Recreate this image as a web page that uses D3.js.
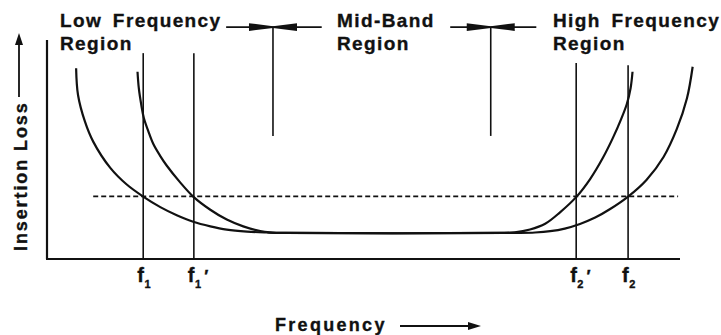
<!DOCTYPE html>
<html>
<head>
<meta charset="utf-8">
<script src="https://cdn.jsdelivr.net/npm/d3@7/dist/d3.min.js"></script>
<style>
  html, body { margin: 0; padding: 0; background: #fff; }
  svg { display: block; }
  text { font-family: "Liberation Sans", Arial, Helvetica, sans-serif; font-weight: bold; fill: #111; stroke: #111; stroke-width: 0.35px; }
</style>
</head>
<body>
<svg id="chart" width="721" height="335"></svg>
<script>
// Insertion loss vs frequency for two filters (relative units, 0–100)
const filterOuterX = [4.6, 4.9, 6.0, 7.3, 10.0, 12.6, 15.2, 17.9, 20.5, 23.1, 25.8, 28.4, 31.6, 34.7, 37.6,
                      74.7, 77.1, 79.5, 81.8, 84.2, 86.6, 88.9, 91.8, 94.7, 97.4, 99.5, 101.1, 102.0];
const filterOuterY = [87.1, 74.9, 62.7, 53.6, 41.6, 34.0, 28.5, 23.7, 20.0, 17.0, 14.9, 13.4, 12.5, 12.1, 11.9,
                      11.9, 12.1, 12.7, 13.9, 16.0, 18.9, 22.7, 28.5, 36.1, 46.6, 59.4, 73.4, 87.8];

const filterInnerX = [14.3, 14.5, 14.9, 15.3, 16.0, 16.8, 17.9, 18.9, 21.0, 23.1, 25.8, 28.4, 31.0, 33.7, 35.2, 37.6,
                      71.6, 73.9, 76.3, 78.7, 81.0, 83.7, 85.8, 87.8, 89.4, 90.7, 91.6, 92.2, 92.5];
const filterInnerY = [85.5, 78.1, 70.3, 64.4, 58.4, 52.5, 47.0, 42.7, 35.1, 28.5, 22.5, 18.0, 14.9, 12.8, 12.2, 11.9,
                      11.9, 12.2, 13.5, 16.1, 21.2, 28.6, 36.5, 46.1, 55.3, 63.9, 70.8, 78.1, 85.5];

// Cutoff frequencies and their labels
const cutoffNames = ["f1", "f1'", "f2'", "f2"];
const cutoffFreq  = [15.2, 23.2, 83.6, 91.8];
const cutoffTop   = [94, 94, 89.5, 88.5];

// Reference loss level (dashed) and its extent
const refLoss = 28.6;
const refExtent = [7.3, 99.7];

// Region boundaries (marker positions) and the markers' reach
const regionBounds = [35.7, 70.1];
const markerTop = 105.9, markerBottom = 56.2;
const markerSpan = [[28.3, 43.4], [63.7, 77.3]];
const wedgeHalf = [3.9, 3.8];

const regionLabels = [
  { lines: ["Low Frequency", "Region"], x: 60 },
  { lines: ["Mid-Band", "Region"], x: 337 },
  { lines: ["High Frequency", "Region"], x: 553 }
];

const svg = d3.select("#chart");
const x = d3.scaleLinear().domain([0, 100]).range([47, 680]);
const y = d3.scaleLinear().domain([0, 100]).range([259, 40]);

const ink = "#111";

// Axes (plain lines, no ticks)
svg.append("line").attr("x1", x(0)).attr("x2", x(0)).attr("y1", y(0)).attr("y2", y(100))
  .attr("stroke", ink).attr("stroke-width", 2.2);
svg.append("line").attr("x1", x(0) - 1).attr("x2", x(100)).attr("y1", y(0)).attr("y2", y(0))
  .attr("stroke", ink).attr("stroke-width", 2.2);

// Dashed reference loss
svg.append("line")
  .attr("x1", x(refExtent[0])).attr("x2", x(refExtent[1]))
  .attr("y1", y(refLoss)).attr("y2", y(refLoss))
  .attr("stroke", ink).attr("stroke-width", 1.6).attr("stroke-dasharray", "5,3");

// Cutoff verticals
cutoffFreq.forEach((f, i) => {
  svg.append("line").attr("x1", x(f)).attr("x2", x(f))
    .attr("y1", y(0)).attr("y2", y(cutoffTop[i]))
    .attr("stroke", ink).attr("stroke-width", 1.6);
});

// Loss curves
const line = d3.line().x(d => x(d[0])).y(d => y(d[1])).curve(d3.curveCatmullRom.alpha(0.5));
[[filterOuterX, filterOuterY], [filterInnerX, filterInnerY]].forEach(([xs, ys]) => {
  svg.append("path").datum(d3.zip(xs, ys)).attr("d", line)
    .attr("fill", "none").attr("stroke", ink).attr("stroke-width", 2.2)
    .attr("stroke-linejoin", "round");
});

// Tick labels f1, f1', f2', f2
cutoffNames.forEach((name, i) => {
  const t = svg.append("text").attr("x", x(cutoffFreq[i]) - 6).attr("y", 282)
    .style("font-size", "20px");
  t.append("tspan").text("f");
  t.append("tspan").attr("dy", 6).attr("dx", 0.5).style("font-size", "11px").text(name[1]);
  if (name.length > 2) {
    t.append("tspan").attr("dy", -6).attr("dx", 3).style("font-size", "17px").text("\u2032");
  }
});

// Region markers: vertical bar with converging arrows
regionBounds.forEach((b, i) => {
  const cx = x(b), ty = y(markerTop);
  svg.append("line").attr("x1", cx).attr("x2", cx).attr("y1", ty).attr("y2", y(markerBottom))
    .attr("stroke", ink).attr("stroke-width", 1.6);
  svg.append("line").attr("x1", x(markerSpan[i][0])).attr("x2", x(markerSpan[i][1]))
    .attr("y1", ty).attr("y2", ty).attr("stroke", ink).attr("stroke-width", 1.6);
  const len = 24, h = wedgeHalf[i];
  [-1, 1].forEach(s => {
    svg.append("path")
      .attr("d", `M${cx + s * len},${ty - h} L${cx},${ty - 0.8} L${cx},${ty + 0.8} L${cx + s * len},${ty + h} Z`)
      .attr("fill", ink);
  });
});

// Region titles
regionLabels.forEach(r => {
  r.lines.forEach((s, j) => {
    svg.append("text").attr("x", r.x).attr("y", 27 + j * 23)
      .style("font-size", "19px").style("letter-spacing", "1.4px")
      .style("word-spacing", "4px").text(s);
  });
});

// Axis titles with arrows
svg.append("text").attr("transform", "translate(27,251) rotate(-90)")
  .style("font-size", "18px").style("letter-spacing", "1.9px").text("Insertion Loss");
svg.append("line").attr("x1", 19).attr("x2", 19).attr("y1", 97).attr("y2", 42)
  .attr("stroke", ink).attr("stroke-width", 1.8);
svg.append("path").attr("d", "M19,33 L15,45 L23,45 Z").attr("fill", ink);

svg.append("text").attr("x", 275).attr("y", 331)
  .style("font-size", "18px").style("letter-spacing", "2.3px").text("Frequency");
svg.append("line").attr("x1", 400).attr("x2", 470).attr("y1", 326).attr("y2", 326)
  .attr("stroke", ink).attr("stroke-width", 1.8);
svg.append("path").attr("d", "M481,326 L468,322 L468,330 Z").attr("fill", ink);
</script>
</body>
</html>
